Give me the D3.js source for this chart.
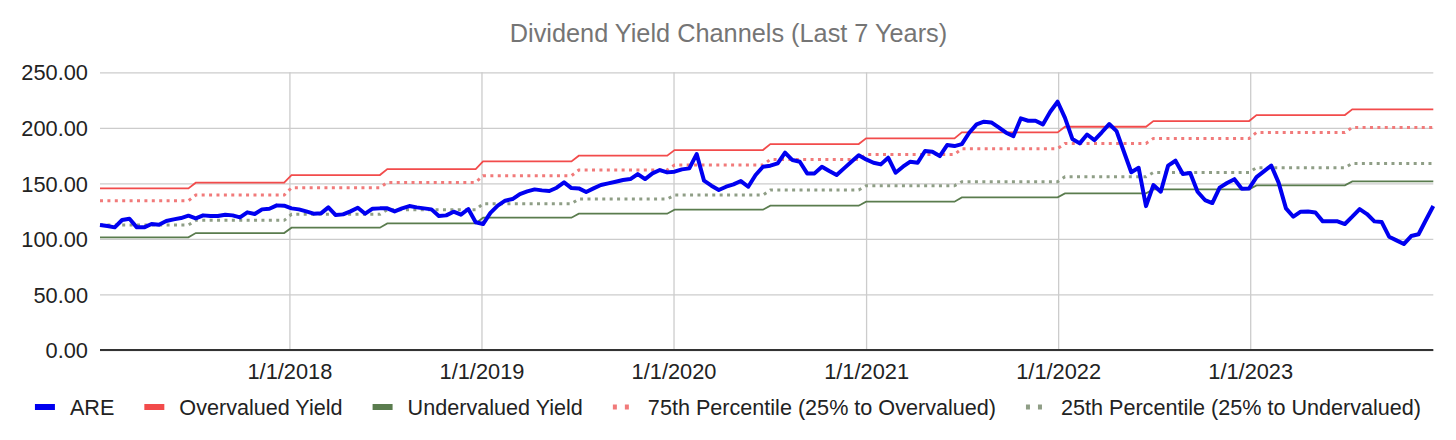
<!DOCTYPE html>
<html>
<head>
<meta charset="utf-8">
<script src="https://cdn.jsdelivr.net/npm/d3@7"></script>
<style>
  body { margin: 0; background: #fff; }
  svg text { font-family: "Liberation Sans", Arial, sans-serif; }
</style>
</head>
<body>
<div class="chart"></div>
<script>
// biweekly ARE yield values, Jan 2017 -> Dec 2023
const areValues = [
  112.5, 111.6, 110.4, 117.0, 118.2, 110.4, 110.4, 113.4, 112.8, 116.1,
  117.6, 118.8, 120.9, 118.5, 121.2, 120.6, 120.6, 121.8, 121.2, 119.4,
  123.9, 122.4, 126.6, 127.2, 130.2, 129.9, 127.5, 126.6, 124.8, 122.7,
  123.0, 128.4, 121.5, 122.1, 124.8, 128.1, 122.7, 127.2, 127.5, 127.5,
  124.8, 127.5, 129.6, 128.4, 127.5, 126.6, 120.6, 121.2, 124.5, 121.8,
  126.9, 115.0, 113.4, 123.5, 130.0, 134.4, 135.9, 140.4, 142.8, 144.6,
  143.7, 143.1, 146.1, 150.9, 145.8, 145.5, 142.2, 145.5, 148.5, 150.0,
  151.5, 153.0, 153.9, 158.4, 153.9, 159.0, 162.0, 159.9, 160.5, 162.6,
  163.5, 176.4, 152.4, 147.9, 144.0, 147.0, 149.1, 152.1, 147.0, 157.5,
  165.0, 165.9, 168.0, 177.6, 171.0, 169.5, 159.0, 159.0, 165.0, 161.1,
  157.5, 163.5, 169.5, 175.3, 171.6, 168.6, 167.1, 173.1, 159.6, 165.0,
  169.5, 168.6, 179.1, 178.5, 174.6, 184.5, 183.6, 185.4, 195.6, 203.1,
  205.5, 204.9, 200.4, 195.6, 192.6, 208.5, 206.4, 206.4, 203.1, 214.5,
  223.5, 209.0, 190.0, 186.0, 194.0, 189.0, 196.0, 203.4, 197.0, 178.5,
  160.0, 164.0, 129.5, 148.5, 142.5, 166.0, 170.4, 158.4, 159.3, 142.5,
  135.0, 132.3, 146.2, 150.3, 153.8, 145.2, 145.5, 155.7, 160.8, 166.0,
  150.7, 127.5, 120.0, 124.5, 124.6, 123.8, 115.8, 115.8, 115.8, 113.4,
  120.0, 126.9, 122.4, 115.8, 115.2, 102.0, 98.7, 95.4, 102.6, 104.2,
  117.0, 129.6
];

// half-year channel levels: 2017H1, 2017H2, ... 2023H2
const overvaluedLevels = [145.5, 150.6, 157.5, 162.9, 169.8, 174.9, 180.0, 185.4, 190.5, 195.9, 201.0, 206.1, 211.5, 216.6];
const undervaluedLevels = [101.4, 105.3, 110.1, 114.0, 119.1, 122.7, 126.3, 129.9, 133.5, 137.4, 141.0, 144.6, 148.2, 151.8];
const p75Levels = [134.4, 139.5, 146.1, 150.9, 156.9, 162.0, 166.5, 171.6, 176.1, 181.2, 186.0, 190.5, 195.9, 200.4];
const p25Levels = [112.5, 116.7, 122.1, 126.3, 131.7, 135.9, 139.5, 144.0, 147.9, 151.5, 156.0, 159.9, 164.1, 168.0];

const yTicks = [0, 50, 100, 150, 200, 250];
const xTickLabels = ["1/1/2018", "1/1/2019", "1/1/2020", "1/1/2021", "1/1/2022", "1/1/2023"];

const seriesNames = ["ARE", "Overvalued Yield", "Undervalued Yield", "75th Percentile (25% to Overvalued)", "25th Percentile (25% to Undervalued)"];
const seriesColors = ["#0000f0", "#f24b4b", "#5a7c4e", "#f17a7a", "#8f9e86"];

var width = 1456, height = 440;
var margin = {left: 100, right: 1456 - 1433.3, top: 72.3, bottom: 440 - 350};
var labelSize = "21.8px";

var svg = d3.select(".chart").append("svg")
  .attr("width", width)
  .attr("height", height);

var startDate = new Date(2017, 0, 6);
var dates = areValues.map((v, i) => d3.timeDay.offset(startDate, 14 * i));

var x = d3.scaleTime()
  .domain([dates[0], dates[dates.length - 1]])
  .range([margin.left, width - margin.right]);

var y = d3.scaleLinear()
  .domain([0, 250])
  .range([height - margin.bottom, margin.top]);

function halfIndex(d) {
  return (d.getFullYear() - 2017) * 2 + (d.getMonth() >= 6 ? 1 : 0);
}

var rows = dates.map((d, i) => ({
  date: d,
  are: areValues[i],
  over: overvaluedLevels[halfIndex(d)],
  under: undervaluedLevels[halfIndex(d)],
  p75: p75Levels[halfIndex(d)],
  p25: p25Levels[halfIndex(d)]
}));

// title
svg.append("text")
  .attr("x", width / 2 + 0.5)
  .attr("y", 42)
  .attr("text-anchor", "middle")
  .attr("fill", "#757575")
  .style("font-size", "25.3px")
  .text("Dividend Yield Channels (Last 7 Years)");

// horizontal grid + y labels
var yAxis = svg.append("g")
  .attr("transform", `translate(${margin.left},0)`)
  .call(d3.axisLeft(y).tickValues(yTicks).tickSize(-(width - margin.left - margin.right)).tickFormat(d3.format(".2f")));
yAxis.select(".domain").remove();
yAxis.selectAll(".tick line").attr("stroke", "#cccccc").attr("stroke-width", 1.3);
yAxis.selectAll(".tick text")
  .attr("x", -12)
  .attr("dy", "0.35em")
  .attr("fill", "#222")
  .style("font-size", labelSize);

// vertical grid + x labels
var tickDates = xTickLabels.map(s => d3.timeParse("%m/%d/%Y")(s));
var xAxis = svg.append("g")
  .attr("transform", `translate(0,${height - margin.bottom})`)
  .call(d3.axisBottom(x).tickValues(tickDates).tickSize(-(height - margin.bottom - margin.top)).tickFormat((d, i) => xTickLabels[i]));
xAxis.select(".domain").remove();
xAxis.selectAll(".tick line").attr("stroke", "#cccccc").attr("stroke-width", 1.3);
xAxis.selectAll(".tick text")
  .attr("y", 29)
  .attr("dy", 0)
  .attr("fill", "#222")
  .style("font-size", labelSize);

// baseline
svg.append("line")
  .attr("x1", margin.left)
  .attr("x2", width - margin.right)
  .attr("y1", y(0))
  .attr("y2", y(0))
  .attr("stroke", "#333")
  .attr("stroke-width", 2);

var line = key => d3.line().x(d => x(d.date)).y(d => y(d[key]));

svg.append("path").datum(rows)
  .attr("d", line("over"))
  .attr("fill", "none").attr("stroke", seriesColors[1]).attr("stroke-width", 1.8);

svg.append("path").datum(rows)
  .attr("d", line("under"))
  .attr("fill", "none").attr("stroke", seriesColors[2]).attr("stroke-width", 1.8);

svg.append("path").datum(rows)
  .attr("d", line("p75"))
  .attr("fill", "none").attr("stroke", seriesColors[3]).attr("stroke-width", 3)
  .attr("stroke-dasharray", "3,4.4");

svg.append("path").datum(rows)
  .attr("d", line("p25"))
  .attr("fill", "none").attr("stroke", seriesColors[4]).attr("stroke-width", 3)
  .attr("stroke-dasharray", "3,4.4");

svg.append("path").datum(rows)
  .attr("d", line("are"))
  .attr("fill", "none").attr("stroke", seriesColors[0]).attr("stroke-width", 4)
  .attr("stroke-linejoin", "round");

// legend
var legend = svg.append("g");
var lx = 0;
seriesNames.forEach((name, i) => {
  var item = legend.append("g").attr("transform", `translate(${lx},0)`);
  if (i < 3) {
    item.append("line")
      .attr("x1", 0).attr("x2", 20).attr("y1", 0).attr("y2", 0)
      .attr("stroke", seriesColors[i]).attr("stroke-width", 6);
  } else {
    item.append("line")
      .attr("x1", 0).attr("x2", 20).attr("y1", 0).attr("y2", 0)
      .attr("stroke", seriesColors[i]).attr("stroke-width", 5)
      .attr("stroke-dasharray", "4,8");
  }
  var t = item.append("text")
    .attr("x", 35)
    .attr("y", 7.5)
    .attr("fill", "#222")
    .style("font-size", "21.6px")
    .text(name);
  lx += 35 + t.node().getComputedTextLength() + 30;
});
lx -= 30;
legend.attr("transform", `translate(${(width - lx) / 2},407)`);
</script>
</body>
</html>
